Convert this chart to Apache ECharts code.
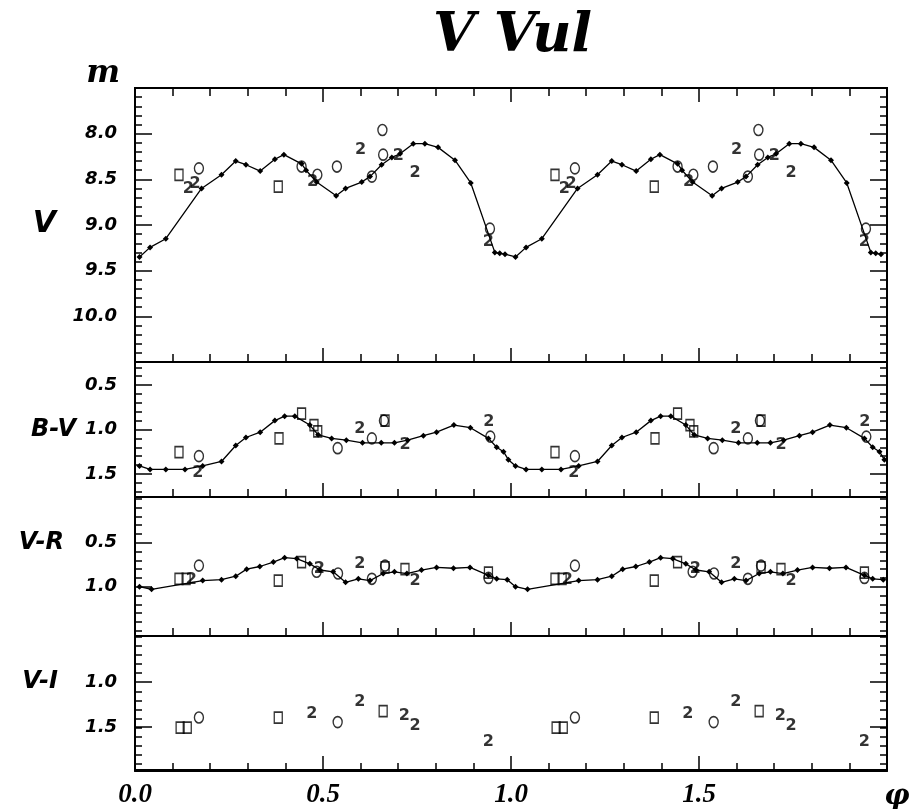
<!DOCTYPE html>
<html><head><meta charset="utf-8">
<script src="https://cdn.jsdelivr.net/npm/echarts@6/dist/echarts.min.js"></script>
<style>html,body{margin:0;padding:0;background:#fff}#c{width:915px;height:809px}</style>
</head><body><div id="c"></div>
<script>
// ---- Data: one pulsation cycle [phase, value]; plotted at phase and phase+1 ----
const vCurve = [[0.012,9.35],[0.04,9.245],[0.082,9.15],[0.177,8.60],[0.23,8.45],[0.268,8.30],[0.295,8.34],[0.333,8.41],[0.372,8.28],[0.396,8.23],[0.443,8.33],[0.455,8.40],[0.483,8.53],[0.535,8.68],[0.56,8.60],[0.603,8.53],[0.625,8.47],[0.656,8.34],[0.683,8.26],[0.705,8.22],[0.74,8.11],[0.771,8.11],[0.806,8.15],[0.851,8.29],[0.893,8.54],[0.957,9.30],[0.97,9.31],[0.984,9.32]];
const vSquares = [[0.117,8.45],[0.381,8.58]];
const vCircles = [[0.17,8.38],[0.443,8.36],[0.485,8.45],[0.537,8.36],[0.658,7.96],[0.66,8.23],[0.63,8.47],[0.944,9.04]];
const vTwos = [[0.142,8.60],[0.16,8.55],[0.472,8.53],[0.6,8.18],[0.745,8.43],[0.70,8.24],[0.94,9.18]];

const bvCurve = [[0.012,1.41],[0.04,1.45],[0.082,1.45],[0.133,1.45],[0.18,1.41],[0.23,1.36],[0.268,1.18],[0.295,1.09],[0.333,1.03],[0.372,0.90],[0.398,0.85],[0.425,0.85],[0.465,0.95],[0.487,1.06],[0.523,1.10],[0.562,1.12],[0.605,1.15],[0.655,1.15],[0.69,1.15],[0.725,1.12],[0.767,1.07],[0.802,1.03],[0.848,0.95],[0.892,0.98],[0.94,1.10],[0.962,1.20],[0.98,1.25],[0.993,1.34]];
const bvSquares = [[0.117,1.255],[0.383,1.10],[0.443,0.82],[0.476,0.95],[0.486,1.02],[0.665,0.90]];
const bvCircles = [[0.17,1.30],[0.539,1.21],[0.662,0.90],[0.63,1.10],[0.945,1.08]];
const bvTwos = [[0.167,1.49],[0.598,0.99],[0.718,1.17],[0.941,0.91]];

const vrCurve = [[0.012,1.0],[0.044,1.03],[0.18,0.93],[0.23,0.92],[0.268,0.88],[0.297,0.80],[0.332,0.77],[0.368,0.72],[0.398,0.67],[0.43,0.68],[0.465,0.74],[0.492,0.81],[0.527,0.83],[0.56,0.95],[0.594,0.91],[0.625,0.93],[0.66,0.85],[0.69,0.83],[0.723,0.85],[0.762,0.81],[0.802,0.78],[0.847,0.79],[0.891,0.78],[0.94,0.87],[0.962,0.91],[0.99,0.92]];
const vrSquares = [[0.117,0.91],[0.136,0.91],[0.381,0.93],[0.443,0.72],[0.665,0.78],[0.718,0.80],[0.94,0.84]];
const vrCircles = [[0.17,0.76],[0.483,0.83],[0.54,0.85],[0.63,0.91],[0.665,0.76],[0.94,0.90]];
const vrTwos = [[0.15,0.92],[0.598,0.74],[0.745,0.93],[0.49,0.80]];

const viSquares = [[0.12,1.50],[0.139,1.50],[0.381,1.39],[0.66,1.32]];
const viCircles = [[0.17,1.39],[0.539,1.44]];
const viTwos = [[0.47,1.35],[0.598,1.22],[0.716,1.37],[0.745,1.48],[0.94,1.66]];

// tick labels / axis ranges
const xTickLabels = [0, 0.5, 1.0, 1.5];
const xMajor = [0.5, 1.0, 1.5];
const vMajor = [8.0, 8.5, 9.0, 9.5, 10.0];
const bvMajor = [0.5, 1.0, 1.5];
const vrMajor = [0.5, 1.0];
const viMajor = [1.0, 1.5];

// ---- helpers ----
function twoCycles(arr){
  const a = arr.map(d => [d[0], d[1]]);
  const b = arr.map(d => [+(d[0] + 1).toFixed(4), d[1]]);
  return a.concat(b).sort((p, q) => p[0] - q[0]);
}
function minorTicks(from, to){
  const out = [];
  for (let k = Math.round(from*10); k <= Math.round(to*10); k++) out.push(k/10);
  return out;
}

const panels = [
  {top: 88,  height: 274, min: 7.5,  max: 10.5, major: vMajor,  minor: minorTicks(7.6, 10.4), curve: vCurve,  sq: vSquares,  ci: vCircles,  tw: vTwos},
  {top: 362, height: 135, min: 0.24, max: 1.76, major: bvMajor, minor: minorTicks(0.3, 1.7),  curve: bvCurve, sq: bvSquares, ci: bvCircles, tw: bvTwos},
  {top: 497, height: 139, min: -0.02, max: 1.56, major: vrMajor, minor: minorTicks(0.0, 1.5), curve: vrCurve, sq: vrSquares, ci: vrCircles, tw: vrTwos},
  {top: 636, height: 135, min: 0.49, max: 1.98, major: viMajor, minor: minorTicks(0.5, 1.9),  curve: null,    sq: viSquares, ci: viCircles, tw: viTwos}
];

const black = '#000';
// fine x axis: regular 0.1 interval ticks (min 0 is a multiple of 0.1)
function xFine(g, pos){
  return {
    gridIndex: g, type: 'value', min: 0, max: 2, interval: 0.1, position: pos,
    axisLine: {show: true, onZero: false, lineStyle: {color: black, width: 2}},
    axisTick: {show: true, inside: true, length: 8, lineStyle: {color: black, width: 1.5}},
    splitLine: {show: false},
    axisLabel: {show: false}
  };
}
// coarse x axis: long ticks at 0.5 steps, labels on the bottom panel
function xCoarse(g, pos, withLabels){
  return {
    gridIndex: g, type: 'value', min: 0, max: 2, position: pos,
    axisLine: {show: true, onZero: false, lineStyle: {color: black, width: 2}},
    axisTick: {show: true, inside: true, length: 14, customValues: xMajor.slice(),
      lineStyle: {color: black, width: 1.5}},
    splitLine: {show: false},
    axisLabel: withLabels ? {
      show: true, margin: 12, color: black, customValues: xTickLabels.slice(),
      fontFamily: 'Liberation Serif', fontStyle: 'italic', fontWeight: 'bold', fontSize: 27,
      formatter: v => v.toFixed(1)
    } : {show: false, customValues: xMajor.slice()}
  };
}
function yAx(g, p, pos, major){
  const vals = major ? p.major : p.minor;
  return {
    gridIndex: g, type: 'value', min: p.min, max: p.max, inverse: true, position: pos,
    axisLine: {show: true, onZero: false, lineStyle: {color: black, width: 2}},
    axisTick: {show: true, inside: true, length: major ? 17 : 7, customValues: vals.slice(), lineStyle: {color: black, width: 1.5}},
    splitLine: {show: false},
    axisLabel: (major && pos === 'left') ? {
      show: true, customValues: vals.slice(), margin: 18, color: black,
      fontFamily: 'DejaVu Sans', fontStyle: 'italic', fontWeight: 'bold', fontSize: 18,
      formatter: v => v.toFixed(1)
    } : {show: false, customValues: vals.slice()}
  };
}

const grid = [], xAxis = [], yAxis = [], series = [];
const xMain = [], yMain = [];
const n = panels.length;
// main grids (0..3): data + 0.1-step x ticks + 0.1-step y ticks
panels.forEach((p, i) => {
  grid.push({left: 135, right: 28, top: p.top, height: p.height});
  xMain.push(xAxis.length);
  xAxis.push(xFine(i, 'bottom'));
  if (i === 0) xAxis.push(xFine(i, 'top'));
  yMain.push(yAxis.length);
  yAxis.push(yAx(i, p, 'left', false));
  yAxis.push(yAx(i, p, 'right', false));
});
// overlay grids (4..7), same boxes: major x ticks/labels + major y ticks/labels
panels.forEach((p, i) => {
  const g = n + i;
  grid.push({left: 135, right: 28, top: p.top, height: p.height});
  xAxis.push(xCoarse(g, 'bottom', i === 3));
  if (i === 0) xAxis.push(xCoarse(g, 'top', false));
  yAxis.push(yAx(g, p, 'left', true));
  yAxis.push(yAx(g, p, 'right', true));
});

panels.forEach((p, i) => {
  const xi = xMain[i];
  const yi = yMain[i];
  if (p.curve) {
    series.push({
      type: 'line', xAxisIndex: xi, yAxisIndex: yi, data: twoCycles(p.curve),
      symbol: 'diamond', symbolSize: 6, showSymbol: true,
      lineStyle: {color: black, width: 1.3}, itemStyle: {color: black}, z: 3
    });
  }
  series.push({
    type: 'scatter', xAxisIndex: xi, yAxisIndex: yi, data: twoCycles(p.sq),
    symbol: 'rect', symbolSize: [8, 11],
    itemStyle: {color: 'rgba(0,0,0,0)', borderColor: black, borderWidth: 1.5}, z: 4
  });
  series.push({
    type: 'scatter', xAxisIndex: xi, yAxisIndex: yi, data: twoCycles(p.ci),
    symbol: 'circle', symbolSize: [9, 11],
    itemStyle: {color: 'rgba(0,0,0,0)', borderColor: black, borderWidth: 1.5}, z: 4
  });
  series.push({
    type: 'scatter', xAxisIndex: xi, yAxisIndex: yi, data: twoCycles(p.tw),
    symbol: 'rect', symbolSize: 1, itemStyle: {color: 'rgba(0,0,0,0)'},
    label: {show: true, position: 'inside', formatter: '2', color: black,
      fontFamily: 'DejaVu Sans', fontWeight: 'bold', fontSize: 16}, z: 4
  });
});

function txt(x, y, text, font, align){
  return {type: 'text', x: x, y: y, silent: true,
    style: {text: text, font: font, fill: black, align: align || 'right', textAlign: align || 'right',
      verticalAlign: 'middle', textVerticalAlign: 'middle'}};
}

const option = {
  animation: false,
  backgroundColor: '#fff',
  title: {text: 'V Vul', left: 428, top: 5,
    textStyle: {fontFamily: 'DejaVu Serif', fontStyle: 'italic', fontWeight: 'bold', fontSize: 54, color: black}},
  grid: grid, xAxis: xAxis, yAxis: yAxis, series: series,
  graphic: [
    txt(120, 74, 'm', 'italic bold 32px "DejaVu Serif"'),
    txt(56, 224, 'V', 'italic bold 30px "DejaVu Sans"'),
    txt(76, 430, 'B-V', 'italic bold 24px "DejaVu Sans"'),
    txt(64, 543, 'V-R', 'italic bold 24px "DejaVu Sans"'),
    txt(58, 682, 'V-I', 'italic bold 24px "DejaVu Sans"'),
    txt(897, 797, 'φ', 'italic bold 28px "DejaVu Serif"', 'center')
  ]
};
echarts.init(document.getElementById('c')).setOption(option);
</script>
</body></html>
